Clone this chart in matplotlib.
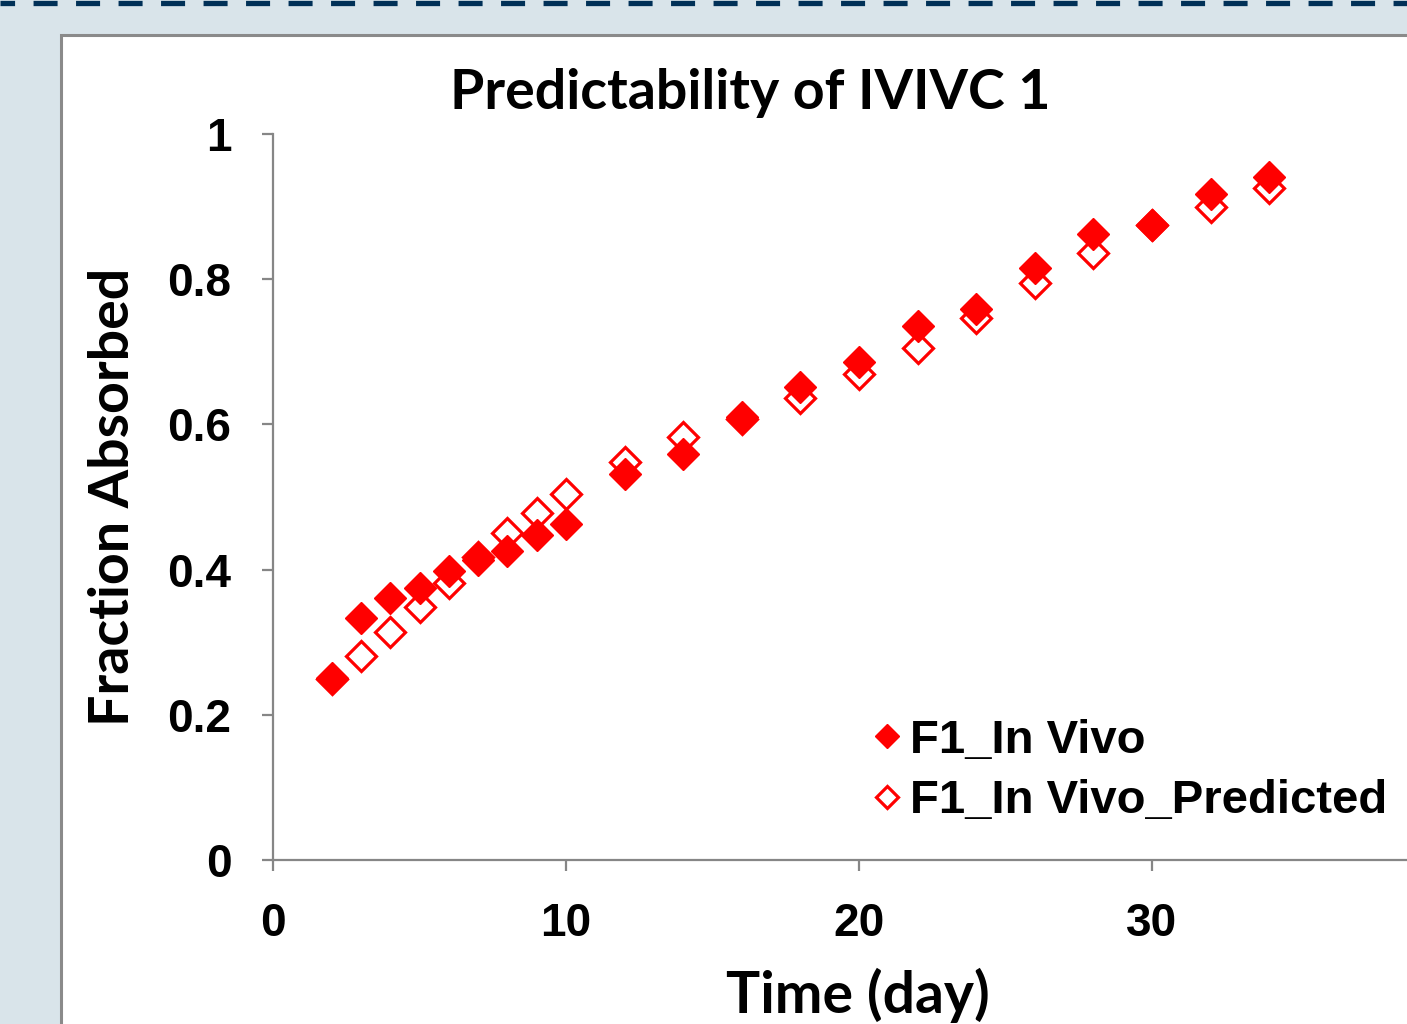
import matplotlib
matplotlib.use("Agg")
import matplotlib.pyplot as plt
from matplotlib.patches import Rectangle
from matplotlib.lines import Line2D

days = [2, 3, 4, 5, 6, 7, 8, 9, 10, 12, 14, 16, 18, 20, 22, 24, 26, 28, 30, 32, 34]
in_vivo = [0.251, 0.333, 0.361, 0.375, 0.398, 0.413, 0.426, 0.447, 0.463, 0.532, 0.559,
           0.610, 0.652, 0.686, 0.736, 0.759, 0.815, 0.862, 0.875, 0.918, 0.941]
in_vivo_pred = [0.250, 0.281, 0.314, 0.349, 0.381, 0.418, 0.450, 0.478, 0.504, 0.548, 0.583,
                0.607, 0.636, 0.669, 0.705, 0.747, 0.795, 0.836, 0.874, 0.900, 0.926]
x_ticks = [0, 10, 20, 30]
y_ticks = [0, 0.2, 0.4, 0.6, 0.8, 1.0]
y_tick_labels = ["0", "0.2", "0.4", "0.6", "0.8", "1"]

W, H = 1407, 1024
fig = plt.figure(figsize=(W / 100, H / 100), dpi=100)
fig.patch.set_facecolor("#d9e4ea")

# white chart area with grey frame
fig.patches.append(Rectangle((61 / W, -0.05), 1.1, 1 - 34.5 / H + 0.05,
                             transform=fig.transFigure, facecolor="white",
                             edgecolor="#8a8a8a", linewidth=2.2, zorder=-2))

# dashed navy strip on top
plt.rcParams["lines.scale_dashes"] = False
top = Line2D([0, 1], [1 - 2.5 / H, 1 - 2.5 / H], transform=fig.transFigure,
             color="#003057", linewidth=3.8, linestyle=(6.8, (17.3, 13.3)), zorder=-1)
fig.lines.append(top)

ax = fig.add_axes([273 / W, (H - 860) / H, 1172 / W, 726 / H])
ax.set_facecolor("none")
ax.set_zorder(1)

gray = "#868686"
p = ax.plot(days, in_vivo_pred, linestyle="none", marker="D", markersize=15.5,
            markerfacecolor="white", markeredgecolor="#ff0000", markeredgewidth=2.3,
            label="F1_In Vivo_Predicted", zorder=3, clip_on=False)
f = ax.plot(days, in_vivo, linestyle="none", marker="D", markersize=16,
            color="#ff0000", label="F1_In Vivo", zorder=4, clip_on=False)

ax.set_xlim(0, 40)
ax.set_ylim(0, 1)
ax.set_xticks(x_ticks)
ax.set_yticks(y_ticks)
ax.set_yticklabels(y_tick_labels)

for s in ["top", "right"]:
    ax.spines[s].set_visible(False)
for s in ["left", "bottom"]:
    ax.spines[s].set_color(gray)
    ax.spines[s].set_linewidth(1.6)
ax.tick_params(axis="both", direction="out", length=8, width=1.6, color=gray,
               labelsize=33, labelcolor="black")
ax.tick_params(axis="y", pad=22)
ax.tick_params(axis="x", pad=22)
for lbl in ax.get_xticklabels() + ax.get_yticklabels():
    lbl.set_fontfamily("Liberation Sans")
    lbl.set_fontweight("bold")

fig.text(750 / W, 1 - 93 / H, "Predictability of IVIVC 1", ha="center", va="center",
         fontsize=40, fontweight="bold", family="Lato")
fig.text(113 / W, 1 - 497 / H, "Fraction Absorbed", ha="center", va="center",
         rotation=90, fontsize=40, fontweight="bold", family="Lato")
fig.text(858 / W, 1 - 995 / H, "Time (day)", ha="center", va="center",
         fontsize=41, fontweight="bold", family="Lato")

leg = fig.legend(handles=[f[0], p[0]], loc="upper left",
                 bbox_to_anchor=(853 / W, 1 - 695 / H), frameon=False,
                 prop={"family": "Liberation Sans", "weight": "bold", "size": 34},
                 handlelength=0.45, handletextpad=0.25, labelspacing=0.35,
                 markerscale=0.75, borderpad=0)

fig.savefig("out.png", dpi=100, facecolor=fig.get_facecolor())
